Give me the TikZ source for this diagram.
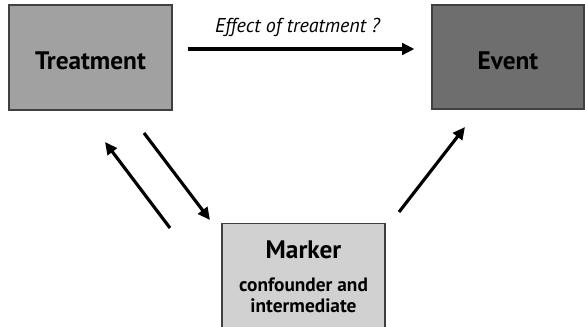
\documentclass[tikz,border=0pt]{standalone}
\usepackage{fontspec}
\setmainfont{PT Sans}
\usetikzlibrary{arrows.meta}
\tikzset{
  box/.style={draw=black!75, line width=0.6pt, minimum width=3.26cm, minimum height=2.1cm, inner sep=0pt},
  boxtext/.style={font=\bfseries\Large, text height=0.5cm, text depth=0pt},
  effarrow/.style={-{Triangle[length=7pt,width=6.5pt]}, line width=1.8pt, black},
}
\begin{document}
\begin{tikzpicture}
      \useasboundingbox (0,0) rectangle (11.7,6.52);
      \node[box, boxtext, fill=black!37] (treat) at (1.81,5.37) {Treatment};
      \node[box, boxtext, fill=black!57, minimum width=3.04cm, minimum height=2.08cm] (event) at (10.16,5.38) {Event};
      \node[box, fill=black!18, anchor=north, minimum height=2.4cm] (marker) at (6.07,2.06) {};
      \node[font=\bfseries\Large] (mtitle) at (6.07,1.52) {Marker};
      \node[align=center, font=\bfseries\fontsize{11}{12}\selectfont] (msub) at (6.07,0.62) {confounder and\\intermediate};
      \node[font=\itshape\fontsize{11.4}{13}\selectfont] (efflabel) at (5.95,5.97) {Effect of treatment ?};
      \coordinate (a1) at (3.40,1.96);
      \coordinate (a2) at (2.10,3.68);
      \coordinate (b1) at (2.88,3.86);
      \coordinate (b2) at (4.20,2.12);
      \coordinate (c1) at (7.98,2.28);
      \coordinate (c2) at (9.30,3.98);
      \draw[effarrow, shorten <=0.3cm, shorten >=0.34cm] (treat.east |- 0,5.54) -- (event.west |- 0,5.54);
      \draw[effarrow] (a1) -- (a2);
      \draw[effarrow] (b1) -- (b2);
      \draw[effarrow] (c1) -- (c2);
    \end{tikzpicture}
\end{document}
